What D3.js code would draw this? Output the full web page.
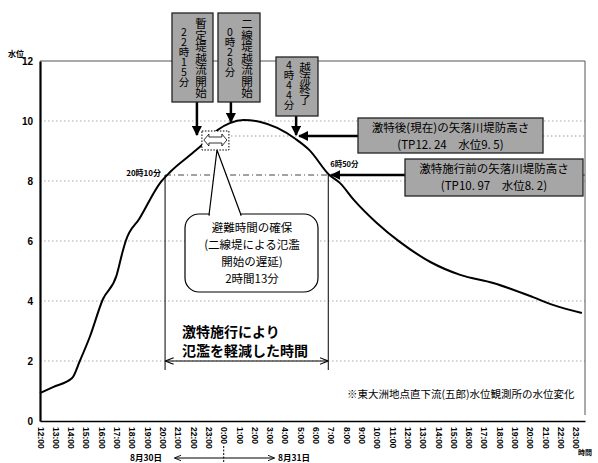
<!DOCTYPE html>
<html>
<head>
<meta charset="utf-8">
<script src="https://cdn.jsdelivr.net/npm/d3@7"></script>
<style>
  body { margin: 0; background: #fff; }
  text { font-family: "Noto Sans CJK JP", "Noto Sans", sans-serif; }
  .vert { writing-mode: vertical-rl; text-orientation: upright; }
</style>
</head>
<body>
<div id="viz"></div>
<script>
// water level (hours after 12:00 on 8/30)
const hours = [0, 0.85, 2.1, 2.6, 3.25, 4.1, 5.0, 5.4, 5.6, 6.5, 7.9, 8.5, 10.2, 10.8, 11.6, 12.4, 13.3, 14.4, 15.5, 16.7, 17.6, 18.9, 19.6, 20.5, 22, 23.5, 25.5, 27.45, 29.6, 32.2, 33.5, 35.4];
const level = [0.93, 1.13, 1.43, 2.0, 2.8, 4.05, 4.85, 5.65, 6.0, 6.75, 7.97, 8.3, 9.03, 9.3, 9.7, 9.93, 10.03, 9.97, 9.77, 9.4, 9.03, 8.2, 7.93, 7.37, 6.6, 5.97, 5.3, 4.87, 4.6, 4.13, 3.87, 3.6];

const tickLabels = ["12:00","13:00","14:00","15:00","16:00","17:00","18:00","19:00","20:00","21:00","22:00","23:00",
  "0:00","1:00","2:00","3:00","4:00","5:00","6:00","7:00","8:00","9:00","10:00","11:00",
  "12:00","13:00","14:00","15:00","16:00","17:00","18:00","19:00","20:00","21:00","22:00","23:00"];
const yTicks = [0, 2, 4, 6, 8, 10, 12];

// events (hours after 12:00 on 8/30)
const eventNames = ["暫定堤越流開始", "二線堤越流開始", "越流終了"];
const eventTimes = ["22時15分", "0時28分", "4時44分"];
const eventHours = [10.25, 12.47, 16.73];
const eventLevels = [9.5, 9.93, 9.5];

const levees = [
  ["激特後(現在)の矢落川堤防高さ", "(TP12. 24　水位9. 5)", 9.5, 16.73],
  ["激特施行前の矢落川堤防高さ", "(TP10. 97　水位8. 2)", 8.2, 18.83]
];
const before = 8.17, after = 18.83; // 20時10分, 6時50分

const width = 598, height = 463;

const svg = d3.select("#viz").append("svg")
    .attr("width", width)
    .attr("height", height);

const defs = svg.append("defs");
defs.append("marker")
    .attr("id", "head")
    .attr("viewBox", "0 0 10 10")
    .attr("refX", 9).attr("refY", 5)
    .attr("markerWidth", 4).attr("markerHeight", 4)
    .attr("orient", "auto-start-reverse")
    .append("path").attr("d", "M0,0L10,5L0,10z").attr("fill", "#000");
defs.append("marker")
    .attr("id", "thin")
    .attr("viewBox", "0 0 10 10")
    .attr("refX", 9).attr("refY", 5)
    .attr("markerWidth", 7).attr("markerHeight", 7)
    .attr("orient", "auto-start-reverse")
    .append("path").attr("d", "M0,1L10,5L0,9").attr("fill", "none").attr("stroke", "#000").attr("stroke-width", 1.3);

const x = d3.scaleLinear().domain([0, 35.6]).range([40, 585]);
const y = d3.scaleLinear().domain([0, 12]).range([421, 61]);

// grid
svg.append("g")
    .selectAll("line")
    .data(yTicks.filter(d => d > 0 && d < 12))
    .join("line")
    .attr("x1", x(0)).attr("x2", x(35.6))
    .attr("y1", d => y(d)).attr("y2", d => y(d))
    .attr("stroke", "#aaa")
    .attr("stroke-dasharray", "1.5,2.5");

// frame top + right
svg.append("path")
    .attr("d", `M${x(0)},${y(12)}H${x(35.6)}V${y(0) - 6}`)
    .attr("fill", "none").attr("stroke", "#555").attr("stroke-width", 1);

// 9.5 dotted, 8.2 dashed
svg.append("line")
    .attr("x1", x(12.47)).attr("x2", x(35.6))
    .attr("y1", y(9.5)).attr("y2", y(9.5))
    .attr("stroke", "#999").attr("stroke-dasharray", "1.5,2.5");
svg.append("line")
    .attr("x1", x(before)).attr("x2", x(35.6))
    .attr("y1", y(8.2)).attr("y2", y(8.2))
    .attr("stroke", "#444").attr("stroke-dasharray", "6,3,1,3");

// axes
const yAxis = svg.append("g")
    .attr("transform", `translate(${x(0)},0)`)
    .call(d3.axisLeft(y).tickValues(yTicks).tickSize(0).tickPadding(7));
yAxis.select(".domain").attr("stroke", "#000").attr("stroke-width", 2.2);
yAxis.selectAll("text").style("font-family", "Liberation Sans, Arial").style("font-size", "10px").style("font-weight", "bold");

const xAxis = svg.append("g")
    .attr("transform", `translate(0,${y(0)})`)
    .call(d3.axisBottom(x).tickValues(d3.range(36)).tickFormat((d, i) => tickLabels[i]).tickSize(0));
xAxis.select(".domain").attr("stroke", "#000").attr("stroke-width", 1.6);
xAxis.selectAll("text")
    .attr("transform", "rotate(90)")
    .attr("x", 6).attr("y", 0).attr("dy", "0.35em")
    .style("text-anchor", "start")
    .style("font-family", "Liberation Sans, Arial")
    .style("font-size", "8.5px")
    .style("font-weight", "bold");

svg.append("text").attr("x", 8).attr("y", 57).text("水位").style("font-size", "8px").style("font-weight", "bold");
svg.append("text").attr("x", 578).attr("y", 455).text("時間").style("font-size", "7px").style("font-weight", "bold");

// curve
const line = d3.line()
    .x((d, i) => x(hours[i]))
    .y(d => y(d))
    .curve(d3.curveMonotoneX);
svg.append("path")
    .datum(level)
    .attr("d", line)
    .attr("fill", "none")
    .attr("stroke", "#000")
    .attr("stroke-width", 2);

// reduced flooding span
[before, after].forEach(t => {
  svg.append("line")
      .attr("x1", x(t)).attr("x2", x(t))
      .attr("y1", y(8.2)).attr("y2", 370)
      .attr("stroke", "#000").attr("stroke-width", 1);
});
svg.append("line")
    .attr("x1", x(before) + 1).attr("x2", x(after) - 1)
    .attr("y1", y(2)).attr("y2", y(2))
    .attr("stroke", "#000").attr("stroke-width", 1.2)
    .attr("marker-start", "url(#thin)").attr("marker-end", "url(#thin)");
svg.append("text").attr("x", x(before) - 4).attr("y", y(8.2) + 1)
    .attr("text-anchor", "end").text("20時10分").style("font-size", "8px").style("font-weight", "bold");
svg.append("text").attr("x", x(after) + 2).attr("y", y(8.2) - 8)
    .text("6時50分").style("font-size", "7.5px").style("font-weight", "bold");

const lab = svg.append("text").style("font-size", "14px").style("font-weight", "bold");
lab.append("tspan").attr("x", 182).attr("y", 337).text("激特施行により");
lab.append("tspan").attr("x", 182).attr("y", 356).text("氾濫を軽減した時間");

// dotted box between the two overflow starts
const bx0 = x(eventHours[0]) + 5, bx1 = x(eventHours[1]) - 2;
svg.append("rect")
    .attr("x", bx0).attr("y", 131).attr("width", bx1 - bx0).attr("height", 19)
    .attr("fill", "#fff").attr("stroke", "#000").attr("stroke-dasharray", "1.5,1.5");
const my = 140;
svg.append("path")
    .attr("d", `M${bx0 + 2},${my}L${bx0 + 7},${my - 6}V${my - 3}H${bx1 - 7}V${my - 6}L${bx1 - 2},${my}L${bx1 - 7},${my + 6}V${my + 3}H${bx0 + 7}V${my + 6}Z`)
    .attr("fill", "#fff").attr("stroke", "#000").attr("stroke-width", 0.8);

// callout
svg.append("rect")
    .attr("x", 185).attr("y", 214).attr("width", 133).attr("height", 78).attr("rx", 14)
    .attr("fill", "#fff").attr("stroke", "#000").attr("stroke-width", 1.2);
svg.append("path")
    .attr("d", `M209,215L217,150L241,215Z`)
    .attr("fill", "#fff").attr("stroke", "#000").attr("stroke-width", 1.2);
svg.append("line").attr("x1", 210).attr("x2", 240).attr("y1", 215).attr("y2", 215)
    .attr("stroke", "#fff").attr("stroke-width", 2.5);
const cl = svg.append("text").attr("text-anchor", "middle").style("font-size", "11.5px");
["避難時間の確保", "(二線堤による氾濫", "開始の遅延)", "2時間13分"].forEach((s, i) => {
  cl.append("tspan").attr("x", 252).attr("y", 232 + i * 17).text(s);
});

// vertical event boxes
const boxes = [[172, 13, 41, 89], [218, 13, 42, 89], [276, 57, 42, 59]];
function vtext(str, cx, y0, size, spacing) {
  svg.append("text").attr("class", "vert")
      .attr("x", cx).attr("y", y0)
      .style("font-size", size + "px")
      .style("letter-spacing", spacing + "px")
      .text(str);
}
eventNames.forEach((name, i) => {
  const b = boxes[i];
  svg.append("line")
      .attr("x1", x(eventHours[i])).attr("x2", x(eventHours[i]))
      .attr("y1", b[1] + b[3]).attr("y2", y(eventLevels[i]) - 1)
      .attr("stroke", "#000").attr("stroke-width", 2.5)
      .attr("marker-end", "url(#head)");
  svg.append("rect")
      .attr("x", b[0]).attr("y", b[1]).attr("width", b[2]).attr("height", b[3])
      .attr("fill", "#a6a6a6").attr("stroke", "#222").attr("stroke-width", 1.3);
  if (i < 2) {
    vtext(name, b[0] + 29, b[1] + 5, 11.5, 0);
    vtext(eventTimes[i], b[0] + 12, b[1] + 14, 10.5, -0.5);
  } else {
    vtext(name, b[0] + 29, b[1] + 5, 11.5, -1);
    vtext(eventTimes[i], b[0] + 13, b[1] + 3, 10.5, -0.5);
  }
});

// levee boxes with arrows
const lboxes = [[358, 118, 185, 35], [405, 159, 178, 37]];
levees.forEach((d, i) => {
  const b = lboxes[i];
  svg.append("line")
      .attr("x1", b[0]).attr("x2", x(d[3]) + 3)
      .attr("y1", y(d[2])).attr("y2", y(d[2]))
      .attr("stroke", "#000").attr("stroke-width", 2.5)
      .attr("marker-end", "url(#head)");
  svg.append("rect")
      .attr("x", b[0]).attr("y", b[1]).attr("width", b[2]).attr("height", b[3])
      .attr("fill", "#a6a6a6").attr("stroke", "#222").attr("stroke-width", 1.3);
  const t = svg.append("text").attr("text-anchor", "middle").style("font-size", "11.5px");
  t.append("tspan").attr("x", b[0] + b[2] / 2).attr("y", b[1] + 13.5).text(d[0]);
  t.append("tspan").attr("x", b[0] + b[2] / 2).attr("y", b[1] + 30.5).text(d[1]);
});

svg.append("text").attr("x", 347).attr("y", 398)
    .text("※東大洲地点直下流(五郎)水位観測所の水位変化").style("font-size", "10.5px");

// date span under axis
svg.append("text").attr("x", 130).attr("y", 461).text("8月30日").style("font-size", "8.5px").style("font-weight", "bold");
svg.append("text").attr("x", 278).attr("y", 461).text("8月31日").style("font-size", "8.5px").style("font-weight", "bold");
svg.append("line")
    .attr("x1", 175).attr("x2", 274).attr("y1", 458).attr("y2", 458)
    .attr("stroke", "#000").attr("stroke-width", 1)
    .attr("marker-start", "url(#thin)").attr("marker-end", "url(#thin)");
svg.append("line")
    .attr("x1", x(12)).attr("x2", x(12)).attr("y1", 446).attr("y2", 463)
    .attr("stroke", "#000").attr("stroke-dasharray", "2,1.5");
</script>
</body>
</html>
